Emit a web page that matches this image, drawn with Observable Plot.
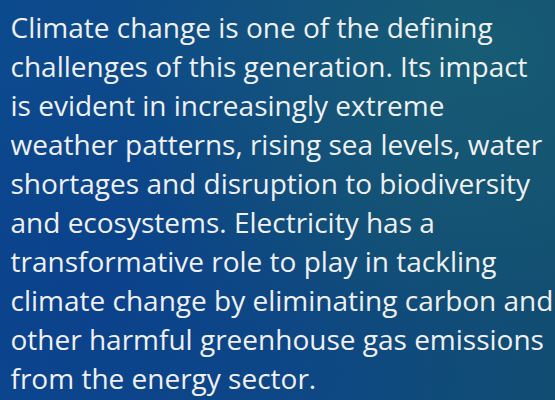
<!DOCTYPE html>
<html>
<head>
<meta charset="utf-8">
<script src="https://cdn.jsdelivr.net/npm/d3@7"></script>
<script src="https://cdn.jsdelivr.net/npm/@observablehq/plot@0.6"></script>
<style>
  html, body { margin: 0; padding: 0; background: #0d4680; }
  #chart svg { display: block; }
</style>
</head>
<body>
<div id="chart"></div>
<script>
const lines = [
  "Climate change is one of the defining",
  "challenges of this generation. Its impact",
  "is evident in increasingly extreme",
  "weather patterns, rising sea levels, water",
  "shortages and disruption to biodiversity",
  "and ecosystems. Electricity has a",
  "transformative role to play in tackling",
  "climate change by eliminating carbon and",
  "other harmful greenhouse gas emissions",
  "from the energy sector."
];
const lineIndex = lines.map((_, i) => i);

const data = lines.map((t, i) => ({ line: lineIndex[i], text: t }));

const chart = Plot.plot({
  width: 555,
  height: 400,
  margin: 0,
  x: { domain: [0, 1], range: [10, 555], axis: null },
  y: { type: "point", domain: lineIndex, range: [33, 392], padding: 0, axis: null },
  style: {
    background: "radial-gradient(ellipse at 85% 12%, rgba(25,95,115,0.8) 0%, rgba(25,95,115,0) 55%), radial-gradient(ellipse at 75% 55%, rgba(20,80,110,0.5) 0%, rgba(20,80,110,0) 50%), radial-gradient(ellipse at 15% 75%, rgba(10,60,140,0.6) 0%, rgba(10,60,140,0) 60%), linear-gradient(90deg, #0c4a8e 0%, #0e4a84 50%, #114d72 100%)",
    fontFamily: "'Open Sans', sans-serif",
    fontVariantLigatures: "none"
  },
  marks: [
    Plot.text(data, {
      x: () => 0,
      y: "line",
      text: "text",
      textAnchor: "start",
      lineAnchor: "bottom",
      fill: "#f0f0f0",
      fontSize: 28,
      fontWeight: 400
    })
  ]
});
document.getElementById("chart").appendChild(chart);
</script>
</body>
</html>
